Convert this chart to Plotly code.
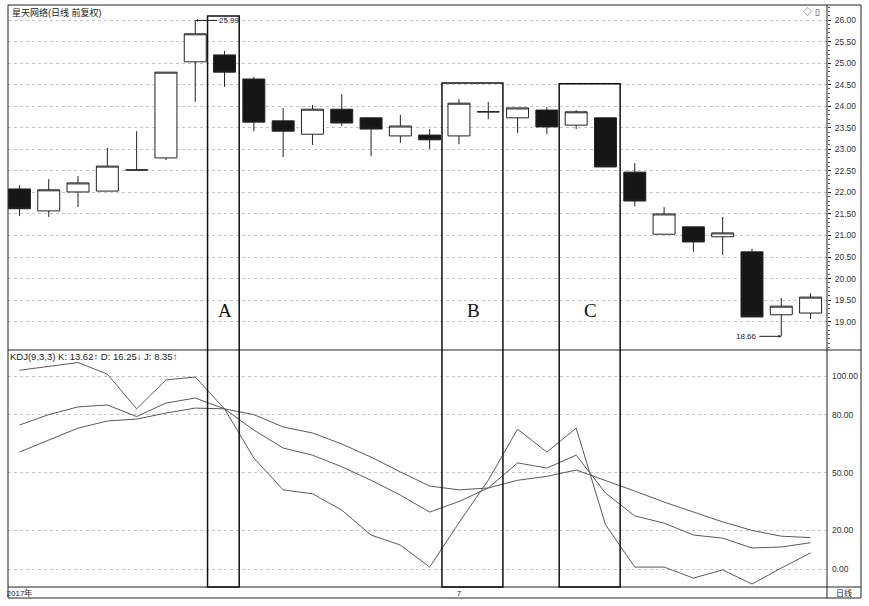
import plotly.graph_objects as go

# ---------------- data ----------------
idx = list(range(28))
open_ = [22.08, 21.57, 22.01, 22.03, 22.52, 22.80, 25.03, 25.19, 24.63, 23.66,
         23.35, 23.93, 23.73, 23.31, 23.33, 23.31, 23.87, 23.73, 23.91, 23.56,
         23.73, 22.47, 21.03, 21.20, 20.97, 20.62, 19.16, 19.20]
close = [21.62, 22.06, 22.22, 22.61, 22.52, 24.79, 25.68, 24.79, 23.63, 23.42,
         23.93, 23.61, 23.47, 23.54, 23.22, 24.07, 23.87, 23.96, 23.52, 23.87,
         22.59, 21.80, 21.50, 20.85, 21.06, 19.11, 19.36, 19.57]
high = [22.17, 22.31, 22.38, 23.03, 23.42, 24.79, 25.99, 25.28, 24.68, 23.96,
        24.03, 24.28, 23.73, 23.80, 23.47, 24.17, 24.10, 23.96, 23.98, 23.91,
        23.73, 22.68, 21.66, 21.20, 21.43, 20.69, 19.55, 19.66]
low = [21.45, 21.43, 21.66, 22.03, 22.52, 22.75, 24.10, 24.45, 23.42, 22.82,
       23.10, 23.54, 22.84, 23.15, 23.01, 23.12, 23.70, 23.38, 23.35, 23.47,
       22.59, 21.68, 21.03, 20.62, 20.55, 19.11, 18.66, 19.06]

k_vals = [74.6, 80, 84, 85, 79, 86, 88.6, 83, 72, 62.7, 59, 53, 46, 38.3, 29.5,
          35, 42, 55, 52.3, 59, 39.4, 27.5, 23.8, 17.6, 16, 10.9, 11.4, 13.62]
d_vals = [60.6, 67, 73, 76.7, 77.7, 80.8, 83.4, 83, 80, 73.6, 70.5, 64.8, 58,
          50.3, 43, 41, 42, 46, 48, 51.3, 46, 40.4, 34.7, 29.5, 24.4, 20, 17, 16.25]
j_vals = [103, 105, 107, 101, 83, 98, 99.5, 83, 57.5, 41, 39, 30.5, 17.6, 12.4,
          1, 24, 46, 72.5, 60.6, 73, 23, 1, 1, -4.7, -0.5, -7.8, 0.5, 8.35]

price_ticks = [19.0, 19.5, 20.0, 20.5, 21.0, 21.5, 22.0, 22.5, 23.0, 23.5,
               24.0, 24.5, 25.0, 25.5, 26.0]
kdj_ticks = [0, 20, 50, 80, 100]
date_tick_idx = [0, 15]
date_tick_text = ["2017年", "7"]

box_labels = ["A", "B", "C"]
box_first = [7, 15, 19]
box_last = [7, 16, 20]
box_tops = [26.09, 24.54, 24.52]
box_label_price = 19.25

title_text = "星天网络(日线 前复权)"
kdj_text = "KDJ(9,3,3) K: 13.62↑ D: 16.25↓ J: 8.35↑"

# ---------------- layout geometry ----------------
W, H = 869, 606
ML, MR, MT, MB = 8, 42, 5, 8
PW = W - ML - MR
PH = H - MT - MB


def py(pix):
    return (H - MB - pix) / PH


def px(pix):
    return (pix - ML) / PW


XR = [-0.39, 27.56]
PRICE_R = [18.343, 26.348]
KDJ_R = [-9.33, 113.5]
split = py(350)
kdj_bottom = py(587)

FONT = "Arial, Liberation Sans, Noto Sans CJK SC, sans-serif"
INK = "#222222"

fig = go.Figure()

fig.add_trace(go.Candlestick(
    x=idx, open=open_, high=high, low=low, close=close,
    increasing=dict(line=dict(color=INK, width=1), fillcolor="white"),
    decreasing=dict(line=dict(color=INK, width=1), fillcolor="#161616"),
    whiskerwidth=0, showlegend=False, hoverinfo="skip",
    xaxis="x", yaxis="y",
))

for vals in (j_vals, k_vals, d_vals):
    fig.add_trace(go.Scatter(
        x=idx, y=vals, mode="lines", line=dict(color="#5a5a5a", width=1),
        showlegend=False, hoverinfo="skip", xaxis="x2", yaxis="y2",
    ))

shapes = []
# outer frame
shapes.append(dict(type="rect", xref="paper", yref="paper", x0=0, x1=px(861),
                   y0=0, y1=1, line=dict(color=INK, width=1)))
# panel separators
for yy in (split, kdj_bottom):
    shapes.append(dict(type="line", xref="paper", yref="paper", x0=0, x1=px(861),
                       y0=yy, y1=yy, line=dict(color=INK, width=1)))
# right axis border line
shapes.append(dict(type="line", xref="paper", yref="paper", x0=1, x1=1,
                   y0=0, y1=1, line=dict(color=INK, width=1)))
# highlight boxes
for f, l, top in zip(box_first, box_last, box_tops):
    shapes.append(dict(type="rect", xref="x", yref="paper",
                       x0=f - 0.58, x1=l + 0.5,
                       y0=kdj_bottom, y1=py(20 + (26 - top) * 43.1),
                       line=dict(color="#111", width=1.5)))

annotations = []
annotations.append(dict(xref="paper", yref="paper", x=px(10), y=py(12),
                        text=title_text, showarrow=False, xanchor="left",
                        yanchor="middle", font=dict(size=9, color=INK, family=FONT)))
annotations.append(dict(xref="paper", yref="paper", x=px(8), y=py(356),
                        text=kdj_text, showarrow=False, xanchor="left",
                        yanchor="middle", font=dict(size=9.5, color=INK, family=FONT)))
annotations.append(dict(xref="paper", yref="paper", x=px(822), y=py(12),
                        text="◇ ▯", showarrow=False, xanchor="right",
                        yanchor="middle", font=dict(size=9, color="#444", family=FONT)))
annotations.append(dict(xref="paper", yref="paper", x=px(844), y=py(593),
                        text="日线", showarrow=False, xanchor="center",
                        yanchor="middle", font=dict(size=8, color=INK, family=FONT)))
for lab, f, l in zip(box_labels, box_first, box_last):
    annotations.append(dict(xref="x", yref="y", x=(f + l) / 2, y=box_label_price,
                            text=lab, showarrow=False,
                            font=dict(size=19, color="#111",
                                      family="Liberation Serif, DejaVu Serif, serif")))
hi_i = high.index(max(high))
lo_i = low.index(min(low))
annotations.append(dict(xref="x", yref="y", x=hi_i, y=high[hi_i],
                        text=f"{high[hi_i]:.2f}", showarrow=True, arrowhead=2,
                        arrowsize=0.6, arrowwidth=1, arrowcolor=INK, ax=22, ay=0,
                        xanchor="left", font=dict(size=8, color=INK, family=FONT)))
annotations.append(dict(xref="x", yref="y", x=lo_i, y=low[lo_i],
                        text=f"{low[lo_i]:.2f}", showarrow=True, arrowhead=2,
                        arrowsize=0.6, arrowwidth=1, arrowcolor=INK, ax=-22, ay=0,
                        xanchor="right", font=dict(size=8, color=INK, family=FONT)))

axis_font = dict(size=8.5, color="#333", family=FONT)

fig.update_layout(
    width=W, height=H,
    margin=dict(l=ML, r=MR, t=MT, b=MB, autoexpand=False),
    paper_bgcolor="white", plot_bgcolor="white",
    boxgap=0.25, boxgroupgap=0,
    showlegend=False, hovermode=False,
    shapes=shapes, annotations=annotations,
    xaxis=dict(domain=[0, 1], range=XR, anchor="y", showticklabels=False,
               showgrid=False, zeroline=False, rangeslider=dict(visible=False),
               fixedrange=True, automargin=False),
    xaxis2=dict(domain=[0, 1], range=XR, anchor="y2", matches="x",
                tickvals=date_tick_idx, ticktext=date_tick_text, ticks="",
                showgrid=False, zeroline=False, automargin=False,
                tickfont=dict(size=8, color=INK, family=FONT),
                ticklabelstandoff=0),
    yaxis=dict(domain=[split, 1], range=PRICE_R, side="right", anchor="x",
               tickvals=price_ticks, ticktext=[f"{v:.2f}" for v in price_ticks],
               ticks="outside", ticklen=3, tickcolor=INK, automargin=False,
               ticklabelstandoff=2,
               minor=dict(dtick=0.1, ticks="outside", ticklen=2, tickcolor="#555",
                          showgrid=False),
               showgrid=True, gridcolor="#c4c4c4", griddash="dot", gridwidth=1,
               zeroline=False, tickfont=axis_font),
    yaxis2=dict(domain=[kdj_bottom, split], range=KDJ_R, side="right", anchor="x2",
                tickvals=kdj_ticks, ticktext=[f"{v:.2f}" for v in kdj_ticks],
                ticks="", showgrid=True, gridcolor="#c4c4c4", griddash="dot",
                gridwidth=1, zeroline=False, automargin=False, ticklabelstandoff=4,
                tickfont=axis_font),
)

fig.write_html("out.html",
               config={"displayModeBar": False, "staticPlot": True},
               post_script="document.body.style.margin='0';document.body.style.padding='0';")
